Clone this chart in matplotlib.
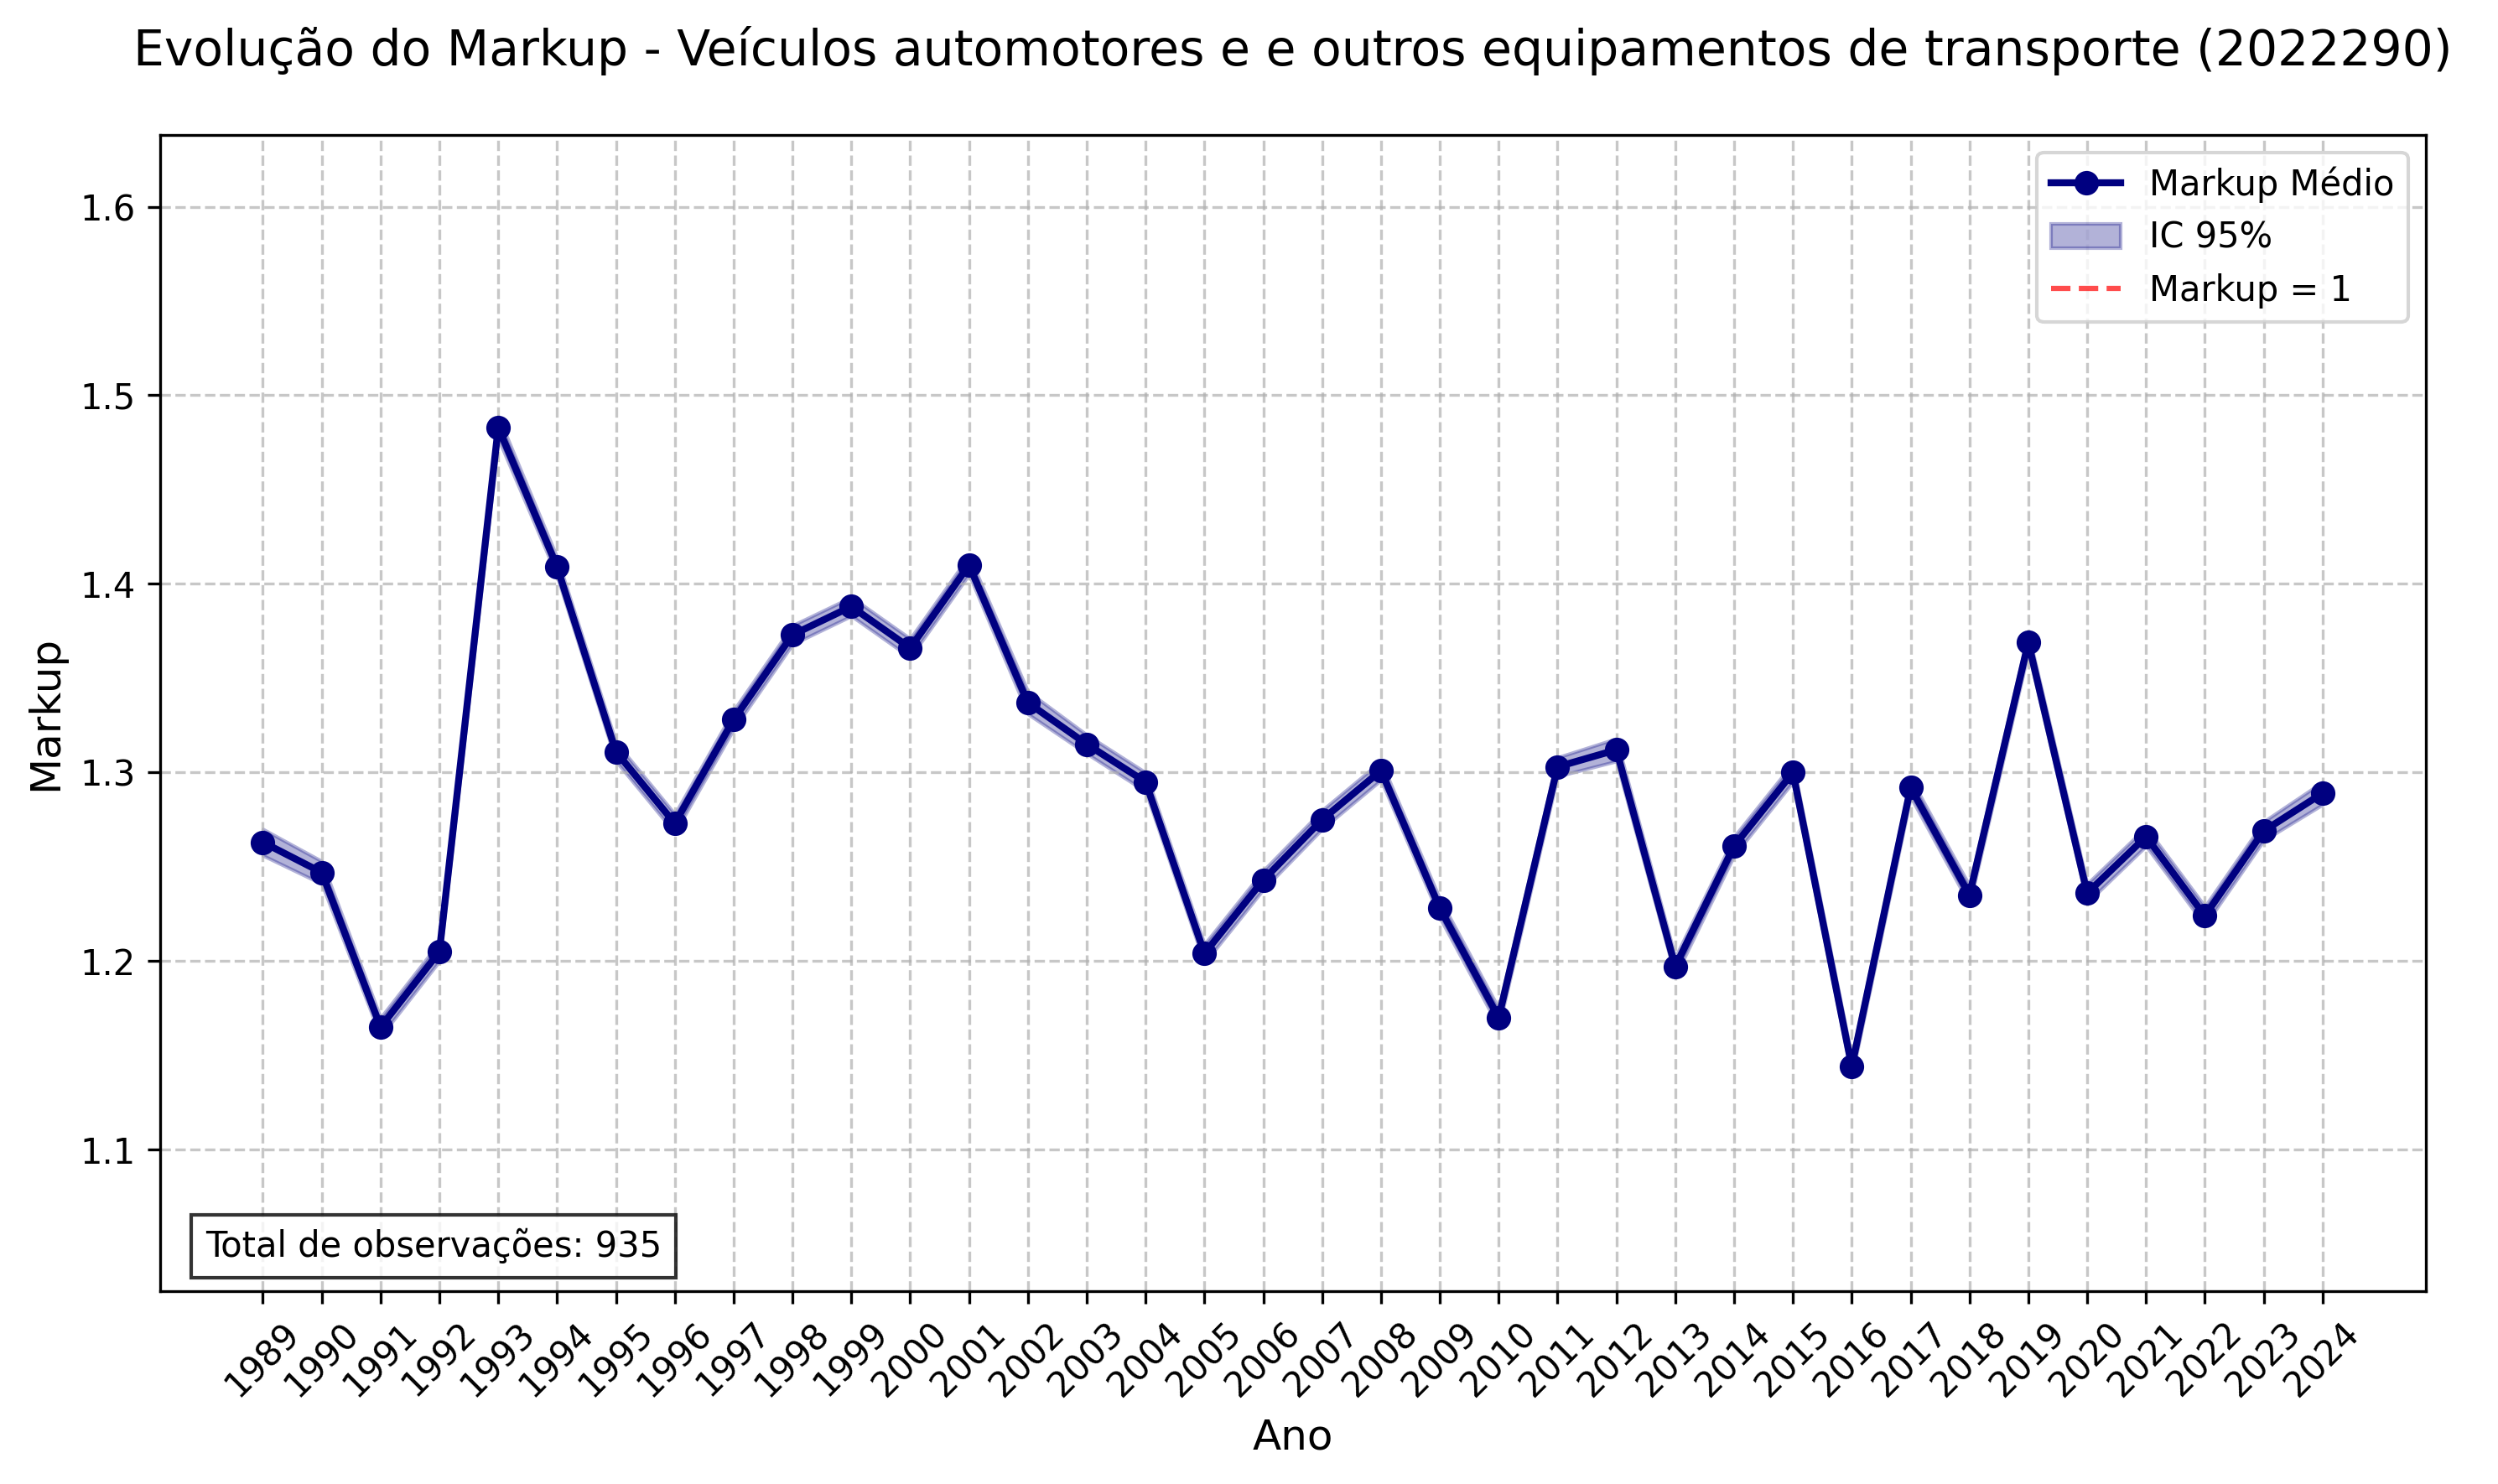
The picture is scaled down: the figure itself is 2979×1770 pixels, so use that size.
import numpy as np
import matplotlib.pyplot as plt

anos = list(range(1989, 2025))
markup = [1.263, 1.247, 1.165, 1.205, 1.483, 1.409, 1.311, 1.273, 1.328, 1.373,
          1.388, 1.366, 1.410, 1.337, 1.315, 1.295, 1.204, 1.243, 1.275, 1.301,
          1.228, 1.170, 1.303, 1.312, 1.197, 1.261, 1.300, 1.144, 1.292, 1.235,
          1.369, 1.236, 1.266, 1.224, 1.269, 1.289]
ic_meia = [0.007, 0.006, 0.005, 0.005, 0.006, 0.005, 0.005, 0.005, 0.005, 0.005,
           0.005, 0.005, 0.005, 0.006, 0.005, 0.005, 0.005, 0.005, 0.005, 0.005,
           0.005, 0.005, 0.005, 0.006, 0.005, 0.005, 0.005, 0.005, 0.005, 0.005,
           0.005, 0.005, 0.005, 0.005, 0.005, 0.006]
n_obs = 935

m = np.array(markup)
h = np.array(ic_meia)

fig, ax = plt.subplots(figsize=(9.93, 5.9), dpi=300)
fig.subplots_adjust(left=0.064, right=0.971, top=0.909, bottom=0.13)
ax.plot(anos, m, 'o-', color='navy', linewidth=2, markersize=6, label='Markup Médio')
ax.fill_between(anos, m - h, m + h, color='navy', alpha=0.3, label='IC 95%')
ax.axhline(1, color='red', linestyle='--', alpha=0.7, label='Markup = 1')
ax.set_ylim(1.025, 1.638)
ax.set_xticks(anos)
ax.set_xticklabels(anos, rotation=45)
ax.grid(True, linestyle='--', alpha=0.7)
ax.set_xlabel('Ano', fontsize=12)
ax.set_ylabel('Markup', fontsize=12)
ax.set_title('Evolução do Markup - Veículos automotores e e outros equipamentos de transporte (2022290)',
             fontsize=14, pad=20)
ax.legend(loc='upper right')
ax.text(0.02, 0.03, f'Total de observações: {n_obs}', transform=ax.transAxes,
        bbox=dict(facecolor='white', alpha=0.8, edgecolor='black'))
fig.savefig('out.png')
